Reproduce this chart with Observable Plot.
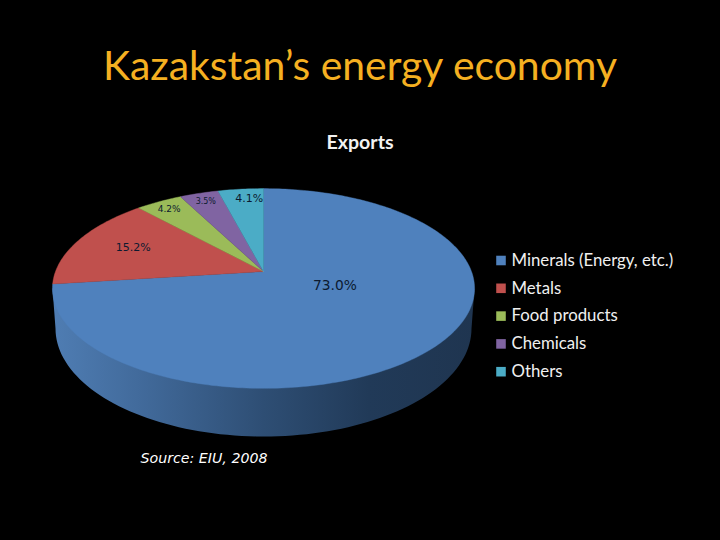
<!DOCTYPE html>
<html>
<head>
<meta charset="utf-8">
<script src="https://cdn.jsdelivr.net/npm/d3@7"></script>
<script src="https://cdn.jsdelivr.net/npm/@observablehq/plot@0.6"></script>
<style>
  html, body { margin: 0; padding: 0; background: #000; width: 720px; height: 540px; overflow: hidden; }
  #title { height: 110px; box-sizing: border-box; padding-top: 40px; text-align: center; color: #f5b021;
           font: 400 40.9px/1.2 Lato, sans-serif; white-space: nowrap; }
  svg { display: block; }
</style>
</head>
<body>
<div id="title">Kazakstan’s energy economy</div>
<div id="chart"></div>
<script>
const categories = ["Minerals (Energy, etc.)", "Metals", "Food products", "Chemicals", "Others"];
const shares = [73.0, 15.2, 4.2, 3.5, 4.1];
const shareLabels = ["73.0%", "15.2%", "4.2%", "3.5%", "4.1%"];
const colors = ["#4f81bd", "#c0504d", "#9bbb59", "#8064a2", "#4bacc6"];

// Perspective pie: unit circle on a tilted disc
const cx = 263, cy = 271, R = 208, A = 97, k = 0.17;
const project = (r, deg) => {
  const t = deg * Math.PI / 180, u = r * Math.sin(t), v = -r * Math.cos(t), d = 1 - k * v;
  return {x: cx + R * u / d, y: cy + A * v / d};
};

let acc = 0;
const wedges = shares.map((s, i) => {
  const start = acc * 3.6; acc += s; const end = acc * 3.6;
  return {name: categories[i], label: shareLabels[i], start, end, mid: (start + end) / 2};
});
const slicePoints = wedges.flatMap(w => {
  const n = Math.max(4, Math.ceil(w.end - w.start));
  const arc = d3.range(n + 1).map(j => project(1, w.start + (w.end - w.start) * j / n));
  return [project(0, 0), ...arc, project(0, 0)].map(p => ({...p, name: w.name}));
});

// Side wall: from the rim's widest points round the lower ellipse
const wall = [
  {x: 52, y: 288},
  ...d3.range(180, -1, -2).map(a => ({
    x: 263 + 208 * Math.cos(a * Math.PI / 180),
    y: 328 + 108 * Math.sin(a * Math.PI / 180)
  })),
  {x: 474, y: 288}
];

const labelRadius = [0.3, 0.7, 0.88, 0.88, 0.87];
const labelSize = [13.8, 11, 9, 8, 11];
const labelDx = [23, 1, -1, 0, 6];
const labelDy = [-6, -2, 0, 0, 0];

const legendY = categories.map((c, i) => 260 + 27.8 * i);
const ink = "#0c1a30";

const gradient = () => {
  const s = d3.create("svg:defs");
  const g = s.append("linearGradient").attr("id", "wallShade").attr("x1", 0).attr("x2", 1).attr("y1", 0).attr("y2", 0);
  [[0, "#4f7db3"], [0.2, "#426b9c"], [0.5, "#2e4e74"], [0.75, "#213a58"], [1, "#1f3550"]]
    .forEach(([o, c]) => g.append("stop").attr("offset", o).attr("stop-color", c));
  return s.node();
};

const chart = Plot.plot({
  width: 720, height: 430,
  margin: 0,
  style: {background: "#000", display: "block"},
  x: {domain: [0, 720], range: [0, 720], axis: null},
  y: {domain: [110, 540], range: [0, 430], axis: null},
  color: {domain: categories, range: colors},
  marks: [
    gradient,
    Plot.line(wall, {x: "x", y: "y", fill: () => "url(#wallShade)", stroke: "none", curve: "linear-closed"}),
    Plot.line(slicePoints, {x: "x", y: "y", z: "name", fill: "name", stroke: "name", strokeWidth: 0.4}),
    ...wedges.map((w, i) => {
      const p = project(labelRadius[i], w.mid);
      return Plot.text([p], {x: "x", y: "y", text: () => w.label, fill: ink, fontSize: labelSize[i],
        fontFamily: "DejaVu Sans", dx: labelDx[i], dy: labelDy[i]});
    }),
    Plot.text(["Exports"], {x: () => 359.5, y: () => 142, text: d => d, fill: "#f2f2f2", fontSize: 19.6, fontWeight: 700,
      fontFamily: "Lato"}),
    Plot.text(["Source: EIU, 2008"], {x: () => 140, y: () => 458, text: d => d, fill: "#fff", fontSize: 14.2,
      fontStyle: "italic", fontFamily: "DejaVu Sans", textAnchor: "start"}),
    Plot.dot(categories, {x: () => 500.5, y: (d, i) => legendY[i], fill: d => d, symbol: "square", r: 5.4, stroke: "none"}),
    Plot.text(categories, {x: () => 511, y: (d, i) => legendY[i], text: d => d, fill: "#f0f0f0", fontSize: 16.8,
      fontFamily: "Lato", textAnchor: "start"})
  ]
});
document.getElementById("chart").appendChild(chart);
</script>
</body>
</html>
